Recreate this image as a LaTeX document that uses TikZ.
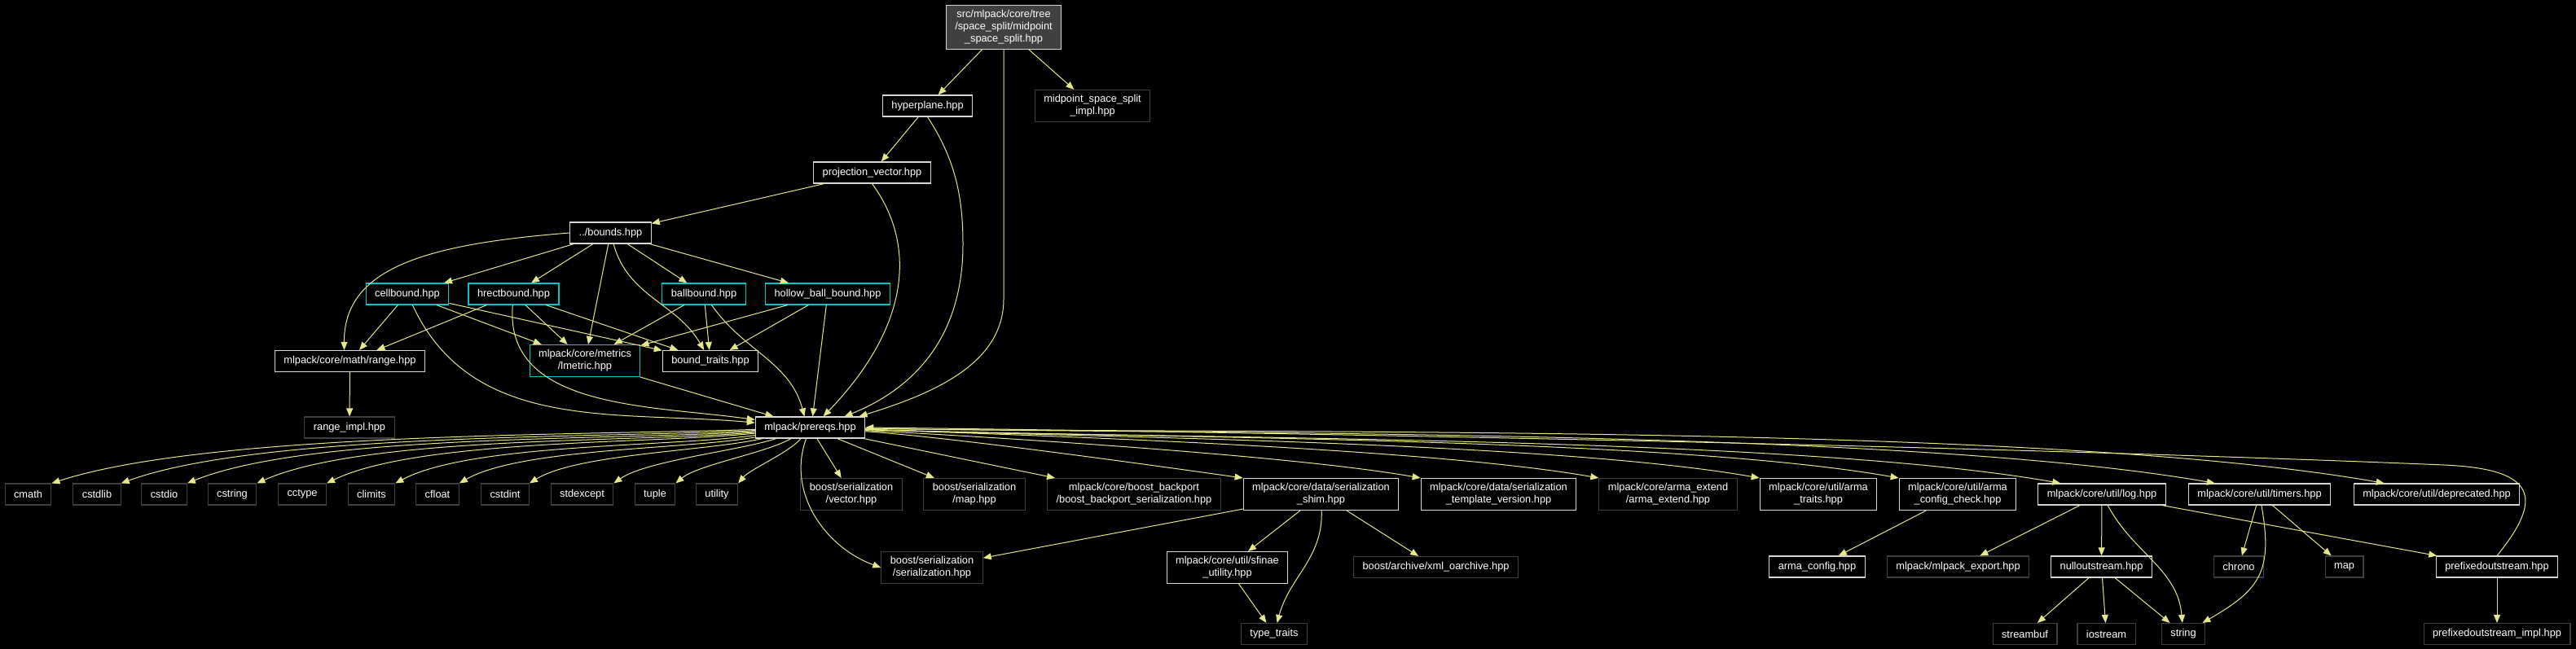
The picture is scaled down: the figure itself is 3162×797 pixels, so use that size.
\documentclass[tikz,border=0pt]{standalone}
\usepackage{fontspec}
\setmainfont{Liberation Sans}
\usetikzlibrary{arrows.meta,calc}

\definecolor{edgecol}{RGB}{230,230,138}
\definecolor{docline}{RGB}{215,215,215}
\definecolor{nodocline}{RGB}{64,64,64}
\definecolor{cyanline}{RGB}{0,200,200}
\definecolor{rootfill}{RGB}{64,64,64}

\begin{document}
\begin{tikzpicture}[
        x=0.5pt, y=-0.5pt,
        archivo/.style={rectangle, draw=docline, fill=black, line width=0.55pt, text=white, align=center, inner xsep=5.5pt, inner ysep=3pt, minimum height=13pt, font=\fontsize{6.4pt}{7.5pt}\selectfont},
        raiz/.style={archivo, fill=rootfill},
        sindoc/.style={archivo, draw=nodocline},
        cota/.style={archivo, draw=cyanline},
        incluye/.style={draw=edgecol, line width=0.5pt, -{Triangle[length=5pt,width=4pt]}},
        abanico/.style={incluye, looseness=0.6}
    ]
        \fill[black] (0,0) rectangle (3162,797);

        \node[raiz] (raiz) at (1232,33.5) {src/mlpack/core/tree\\/space\_split/midpoint\\\_space\_split.hpp};
        \node[archivo] (hyperplane) at (1138.5,130) {hyperplane.hpp};
        \node[sindoc] (midimpl) at (1341,130) {midpoint\_space\_split\\\_impl.hpp};
        \node[archivo] (projvec) at (1070.5,212) {projection\_vector.hpp};
        \node[archivo] (bounds) at (749.5,286) {../bounds.hpp};
        \node[cota] (cellbound) at (500,361) {cellbound.hpp};
        \node[cota] (hrectbound) at (630.5,361) {hrectbound.hpp};
        \node[cota] (ballbound) at (864,361) {ballbound.hpp};
        \node[cota] (hollowball) at (1016,361) {hollow\_ball\_bound.hpp};
        \node[archivo] (range) at (429.5,443.5) {mlpack/core/math/range.hpp};
        \node[cota] (lmetric) at (718,443) {mlpack/core/metrics\\/lmetric.hpp};
        \node[archivo] (boundtraits) at (872,443.5) {bound\_traits.hpp};
        \node[sindoc] (rangeimpl) at (429,525) {range\_impl.hpp};
        \node[archivo] (prereqs) at (994.5,525) {mlpack/prereqs.hpp};

        \node[sindoc] (cmath) at (34.5,607) {cmath};
        \node[sindoc] (cstdlib) at (119,607) {cstdlib};
        \node[sindoc] (cstdio) at (201.5,607) {cstdio};
        \node[sindoc] (cstring) at (285,607) {cstring};
        \node[sindoc] (cctype) at (371,607) {cctype};
        \node[sindoc] (climits) at (456,607) {climits};
        \node[sindoc] (cfloat) at (537,607) {cfloat};
        \node[sindoc] (cstdint) at (620,607) {cstdint};
        \node[sindoc] (stdexcept) at (714.5,607) {stdexcept};
        \node[sindoc] (tuple) at (804,607) {tuple};
        \node[sindoc] (utility) at (880,607) {utility};
        \node[sindoc] (servector) at (1045,607) {boost/serialization\\/vector.hpp};
        \node[sindoc] (sermap) at (1196,607) {boost/serialization\\/map.hpp};
        \node[sindoc] (backport) at (1392,607) {mlpack/core/boost\_backport\\/boost\_backport\_serialization.hpp};
        \node[archivo] (shim) at (1621.5,607) {mlpack/core/data/serialization\\\_shim.hpp};
        \node[archivo] (tplversion) at (1839.5,607) {mlpack/core/data/serialization\\\_template\_version.hpp};
        \node[sindoc] (armaextend) at (2047.5,607) {mlpack/core/arma\_extend\\/arma\_extend.hpp};
        \node[archivo] (armatraits) at (2232,607) {mlpack/core/util/arma\\\_traits.hpp};
        \node[archivo] (armacheck) at (2403,607) {mlpack/core/util/arma\\\_config\_check.hpp};
        \node[archivo] (log) at (2580,607) {mlpack/core/util/log.hpp};
        \node[archivo] (timers) at (2773.5,607) {mlpack/core/util/timers.hpp};
        \node[archivo] (deprecated) at (2991,607) {mlpack/core/util/deprecated.hpp};

        \node[sindoc] (serialization) at (1144,697) {boost/serialization\\/serialization.hpp};
        \node[archivo] (sfinae) at (1506.5,697) {mlpack/core/util/sfinae\\\_utility.hpp};
        \node[sindoc] (xmlarchive) at (1762.5,696.5) {boost/archive/xml\_oarchive.hpp};
        \node[archivo] (armaconfig) at (2230.5,696) {arma\_config.hpp};
        \node[sindoc] (mlexport) at (2403.5,696) {mlpack/mlpack\_export.hpp};
        \node[archivo] (nullout) at (2579.5,696) {nulloutstream.hpp};
        \node[sindoc] (chrono) at (2748,696) {chrono};
        \node[sindoc] (stdmap) at (2877.5,696) {map};
        \node[archivo] (prefixed) at (3065,696) {prefixedoutstream.hpp};

        \node[sindoc] (typetraits) at (1564,778.5) {type\_traits};
        \node[sindoc] (streambuf) at (2485.5,778.5) {streambuf};
        \node[sindoc] (iostream) at (2585.5,778.5) {iostream};
        \node[sindoc] (string) at (2680,778.5) {string};
        \node[sindoc] (prefiximpl) at (3065,778.5) {prefixedoutstream\_impl.hpp};

        \draw[incluye] (raiz) -- (hyperplane);
        \draw[incluye] (raiz) -- (midimpl);
        \draw[incluye] (raiz.south) -- (1232,367) .. controls (1232,445) and (1150,482) .. ($(prereqs.north)+(60,0)$);
        \draw[incluye] (hyperplane) -- (projvec);
        \draw[incluye] (hyperplane.south) .. controls (1172,195) and (1182,240) .. (1182,300) .. controls (1182,425) and (1110,482) .. ($(prereqs.north)+(42,0)$);
        \draw[incluye] (projvec) -- (bounds);
        \draw[incluye] (projvec.south) .. controls (1125,300) and (1118,400) .. ($(prereqs.north)+(16,0)$);

        \draw[incluye] (bounds.west) .. controls (520,300) and (422,330) .. ($(range.north)+(-7,0)$);
        \draw[incluye] (bounds) -- (cellbound);
        \draw[incluye] (bounds) -- (hrectbound);
        \draw[incluye] (bounds) -- (lmetric);
        \draw[incluye] (bounds) to[out=-75, in=120] (boundtraits);
        \draw[incluye] (bounds) -- (ballbound);
        \draw[incluye] (bounds) -- (hollowball);

        \draw[incluye] (cellbound) -- (range);
        \draw[incluye] (cellbound) -- (lmetric);
        \draw[incluye] (cellbound) -- (boundtraits);
        \draw[incluye] (cellbound) to[out=-65, in=175] (prereqs);
        \draw[incluye] (hrectbound) -- (range);
        \draw[incluye] (hrectbound) -- (lmetric);
        \draw[incluye] (hrectbound) -- (boundtraits);
        \draw[incluye] (hrectbound) to[out=-95, in=172] (prereqs);
        \draw[incluye] (ballbound) -- (lmetric);
        \draw[incluye] (ballbound) -- (boundtraits);
        \draw[incluye] (ballbound) to[out=-55, in=105] ($(prereqs.north)+(-7,0)$);
        \draw[incluye] (hollowball) -- (lmetric);
        \draw[incluye] (hollowball) -- (boundtraits);
        \draw[incluye] (hollowball) -- ($(prereqs.north)+(3,0)$);
        \draw[incluye] (lmetric) -- ($(prereqs.north)+(-45,0)$);
        \draw[incluye] (range) -- (rangeimpl);

        \draw[abanico] (prereqs) to[out=182, in=18] (cmath.north east);
        \draw[abanico] (prereqs) to[out=183, in=20] (cstdlib.north east);
        \draw[abanico] (prereqs) to[out=184, in=22] (cstdio.north east);
        \draw[abanico] (prereqs) to[out=185, in=24] (cstring.north east);
        \draw[abanico] (prereqs) to[out=186, in=26] (cctype.north east);
        \draw[abanico] (prereqs) to[out=188, in=28] (climits.north east);
        \draw[abanico] (prereqs) to[out=190, in=30] (cfloat.north east);
        \draw[abanico] (prereqs) to[out=193, in=32] (cstdint.north east);
        \draw[abanico] (prereqs) to[out=198, in=35] (stdexcept.north east);
        \draw[abanico] (prereqs) to[out=210, in=40] (tuple.north east);
        \draw[abanico] (prereqs) to[out=230, in=50] (utility.north east);
        \draw[incluye] (prereqs) to[out=250, in=160] (serialization.west);
        \draw[incluye] (prereqs) -- (servector);
        \draw[incluye] (prereqs) -- (sermap);
        \draw[incluye] (prereqs) -- (backport);
        \draw[abanico] (prereqs) to[out=-4, in=172] (shim.north west);
        \draw[abanico] (prereqs) to[out=-3, in=170] (tplversion.north west);
        \draw[abanico] (prereqs) to[out=-2, in=170] (armaextend.north west);
        \draw[abanico] (prereqs) to[out=-2, in=170] (armatraits.north west);
        \draw[abanico] (prereqs) to[out=-2, in=170] (armacheck.north west);
        \draw[abanico] (prereqs) to[out=-2, in=170] ($(log.north west)+(28,0)$);
        \draw[abanico] (prereqs) to[out=-1, in=170] ($(timers.north west)+(33,0)$);
        \draw[abanico] (prereqs) to[out=-1, in=170] ($(deprecated.north west)+(38,0)$);

        \draw[incluye] (shim) -- (serialization);
        \draw[incluye] (shim) -- (sfinae);
        \draw[incluye] (shim) to[out=-88, in=75] (typetraits);
        \draw[incluye] (shim) -- (xmlarchive);
        \draw[incluye] (sfinae) -- (typetraits);
        \draw[incluye] (armacheck) -- (armaconfig);
        \draw[incluye] (log) -- (mlexport);
        \draw[incluye] (log) -- (nullout);
        \draw[incluye] (log) to[out=-62, in=95] (string);
        \draw[incluye] (log) -- (prefixed);
        \draw[incluye] (nullout) -- (streambuf);
        \draw[incluye] (nullout) -- (iostream);
        \draw[incluye] (nullout) -- (string);
        \draw[incluye] (timers) -- (chrono);
        \draw[incluye] (timers) -- (stdmap);
        \draw[incluye] (timers) to[out=-80, in=30, looseness=1.3] (string);
        \draw[incluye] (prefixed) -- (prefiximpl);
        \draw[incluye] (prefixed.north) .. controls (3122,612) and (3115,576) .. (3000,571) .. controls (2400,546) and (1500,530) .. (prereqs.east);
    \end{tikzpicture}
\end{document}
